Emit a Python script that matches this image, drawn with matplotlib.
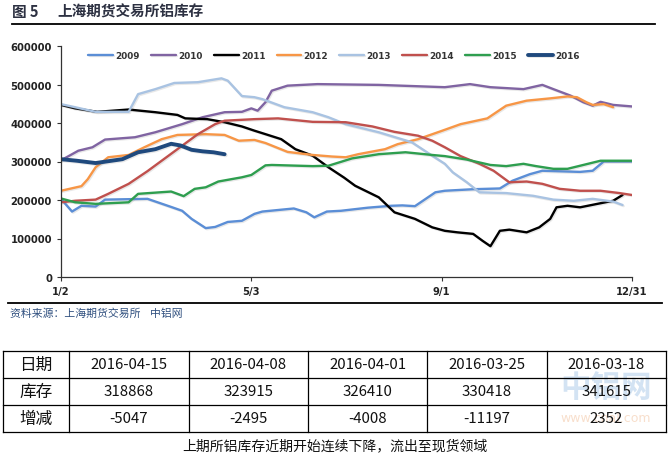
import matplotlib
matplotlib.use("Agg")
import matplotlib.pyplot as plt
from matplotlib.lines import Line2D
import matplotlib.patheffects as pe

CJK = ['Noto Sans CJK SC', 'DejaVu Sans']
plt.rcParams['font.family'] = ['DejaVu Sans', 'Noto Sans CJK SC']

# ---------------- data (day offset from 1/2, inventory in thousand tonnes) ----------------
d2009 = [0, 7, 13, 22, 28, 55, 70, 77, 83, 92, 98, 106, 115, 123, 128, 138, 148, 156, 161, 169, 178, 195, 210,
         217, 225, 238, 244, 262, 279, 287, 298, 306, 330, 338, 345, 363]
v2009 = [203, 170, 185, 183, 201, 203, 182, 172, 151, 127, 130, 143, 146, 164, 170, 174, 178, 168, 155, 170, 172,
         180, 185, 186, 184, 220, 224, 228, 230, 250, 267, 276, 273, 276, 300, 300]

d2010 = [0, 11, 20, 28, 47, 60, 77, 90, 104, 115, 121, 125, 130, 134, 144, 163, 202, 244, 260, 273, 294, 306,
         313, 324, 332, 338, 343, 351, 363]
v2010 = [303, 328, 337, 357, 363, 376, 397, 415, 428, 429, 438, 432, 454, 484, 497, 501, 499, 493, 501, 493, 488,
         499, 488, 471, 454, 445, 455, 447, 443]

d2011 = [0, 9, 23, 43, 60, 74, 79, 93, 104, 115, 123, 130, 140, 149, 160, 170, 180, 187, 202, 212, 225, 236, 244,
         252, 262, 268, 273, 279, 285, 296, 304, 311, 315, 322, 330, 341, 351, 357]
v2011 = [447, 438, 429, 435, 428, 421, 412, 410, 402, 391, 380, 371, 358, 332, 315, 285, 258, 237, 207, 168, 151,
         129, 120, 116, 112, 94, 80, 120, 123, 116, 129, 151, 181, 185, 181, 190, 198, 213]

d2012 = [0, 13, 17, 22, 30, 43, 53, 64, 74, 92, 104, 113, 123, 130, 144, 160, 172, 181, 189, 206, 214, 227, 241,
         254, 271, 283, 296, 311, 322, 328, 334, 338, 345, 351]
v2012 = [224, 236, 254, 285, 311, 317, 337, 358, 369, 371, 369, 354, 356, 348, 325, 317, 313, 311, 319, 332, 345,
         358, 378, 397, 412, 445, 458, 464, 469, 467, 454, 447, 449, 441]

d2013 = [0, 9, 22, 43, 49, 60, 72, 87, 102, 106, 115, 123, 128, 142, 160, 170, 181, 202, 223, 236, 244, 249, 258,
         266, 283, 300, 313, 326, 338, 351, 357]
v2013 = [449, 441, 429, 429, 475, 488, 504, 506, 516, 510, 470, 467, 462, 441, 428, 415, 397, 376, 350, 315, 294,
         272, 246, 220, 218, 211, 201, 198, 203, 196, 187]

d2014 = [0, 9, 22, 30, 43, 55, 60, 74, 87, 98, 104, 123, 138, 160, 181, 198, 212, 227, 236, 244, 254, 266, 275,
         285, 296, 306, 317, 330, 343, 355, 363]
v2014 = [194, 198, 201, 216, 242, 275, 290, 332, 371, 397, 406, 410, 412, 403, 402, 391, 377, 367, 354, 337, 314,
         294, 276, 246, 248, 242, 229, 224, 224, 218, 213]

d2015 = [0, 9, 22, 43, 49, 70, 78, 85, 92, 100, 115, 121, 130, 134, 160, 170, 185, 202, 219, 236, 244, 258, 273,
         283, 294, 302, 313, 322, 330, 343, 363]
v2015 = [204, 194, 190, 194, 216, 222, 210, 229, 233, 248, 259, 265, 290, 291, 288, 289, 308, 319, 324, 317, 314,
         305, 291, 288, 294, 288, 281, 281, 289, 302, 302]

d2016 = [0, 10, 22, 39, 49, 60, 70, 76, 83, 90, 97, 104]
v2016 = [306, 302, 296, 306, 324, 332, 346, 341.6, 330.4, 326.4, 323.9, 318.9]

years = ['2009', '2010', '2011', '2012', '2013', '2014', '2015', '2016']
colors = ['#5B8ED6', '#8064A2', '#000000', '#F79646', '#A9C3E2', '#C0504D', '#2E9E4F', '#1F497D']
series_days = [d2009, d2010, d2011, d2012, d2013, d2014, d2015, d2016]
series_vals = [v2009, v2010, v2011, v2012, v2013, v2014, v2015, v2016]

xtick_days = [0, 121, 242, 363]
xtick_labels = ['1/2', '5/3', '9/1', '12/31']

tbl_header = ['日期', '库存', '增减']
tbl_dates = ['2016-04-15', '2016-04-08', '2016-04-01', '2016-03-25', '2016-03-18']
tbl_stock = [318868, 323915, 326410, 330418, 341615]
tbl_change = [-5047, -2495, -4008, -11197, 2352]

title_num = '图 5'
title_text = '上海期货交易所铝库存'
source_text = '资料来源：上海期货交易所    中铝网'
caption_text = '上期所铝库存近期开始连续下降，流出至现货领域'

# ---------------- figure ----------------
W, H = 672, 456
fig = plt.figure(figsize=(W / 100, H / 100), dpi=100)


def fx(x):
    return x / W


def fy(y):
    return 1 - y / H


ax = fig.add_axes([fx(61), fy(278), fx(632) - fx(61), fy(47) - fy(278)])
for yr, c, ds, vs in zip(years, colors, series_days, series_vals):
    lw = 2.8 if yr == '2016' else 1.7
    ax.plot(ds, [v * 1000 for v in vs], color=c, lw=lw, label=yr,
            solid_joinstyle='round', solid_capstyle='round',
            path_effects=[pe.SimpleLineShadow(offset=(0.8, -0.8), alpha=0.18, shadow_color='gray'), pe.Normal()])

ax.set_xlim(0, 363)
ax.set_ylim(0, 600000)
ax.set_yticks(range(0, 600001, 100000))
ax.set_yticklabels([str(v) for v in range(0, 600001, 100000)])
ax.set_xticks(xtick_days)
ax.set_xticklabels(xtick_labels)
for s in ['top', 'right']:
    ax.spines[s].set_visible(False)
for s in ['left', 'bottom']:
    ax.spines[s].set_color('#333333')
    ax.spines[s].set_linewidth(0.9)
ax.tick_params(axis='both', direction='out', length=3, width=0.8, color='#333333',
               labelsize=7.2, labelcolor='#222222', pad=3.5)
for lab in ax.get_xticklabels() + ax.get_yticklabels():
    lab.set_fontweight('bold')

leg = ax.legend(loc='center', bbox_to_anchor=(0.478, 0.957), ncol=8, frameon=False,
                fontsize=6.4, handlelength=2.8, handletextpad=0.25, columnspacing=1.25)
for t in leg.get_texts():
    t.set_fontweight('bold')
    t.set_color('#333333')

# ---------------- title / rules / source ----------------
fig.text(fx(12), fy(12), title_num, family=CJK, fontsize=10.5, fontweight='bold', color='#2d3142',
         ha='left', va='center')
fig.text(fx(57), fy(12), title_text, family=CJK, fontsize=10.5, fontweight='bold', color='#2d3142',
         ha='left', va='center')
fig.add_artist(Line2D([fx(12), fx(655)], [fy(25), fy(25)], color='black', lw=1.3))
fig.add_artist(Line2D([fx(8), fx(662)], [fy(304), fy(304)], color='black', lw=1.3))
fig.text(fx(10), fy(314), source_text, family=CJK, fontsize=7.8, color='#2F4F7F',
         ha='left', va='center')

# ---------------- table ----------------
col_edges = [3, 69, 189, 308, 427, 547, 666]
row_edges = [352, 379, 406, 433]
for y in row_edges:
    fig.add_artist(Line2D([fx(col_edges[0]), fx(col_edges[-1])], [fy(y), fy(y)], color='black', lw=0.9))
for x in col_edges:
    fig.add_artist(Line2D([fx(x), fx(x)], [fy(row_edges[0]), fy(row_edges[-1])], color='black', lw=0.9))

# watermark (faint, behind the table text)
fig.text(fx(606), fy(388), '中铝网', family=CJK, fontsize=22, fontweight='bold',
         color='#d3e3f3', ha='center', va='center', zorder=0)
fig.text(fx(606), fy(419), 'www.cnal.com', fontsize=9, color='#f8dfcc', ha='center', va='center', zorder=0)

rows = [tbl_dates, [str(v) for v in tbl_stock], [str(v) for v in tbl_change]]
for r in range(3):
    yc = (row_edges[r] + row_edges[r + 1]) / 2
    fig.text(fx((col_edges[0] + col_edges[1]) / 2), fy(yc), tbl_header[r], family=CJK,
             fontsize=12, color='#111111', ha='center', va='center')
    for c in range(5):
        xc = (col_edges[c + 1] + col_edges[c + 2]) / 2
        fig.text(fx(xc), fy(yc), rows[r][c], family=CJK, fontsize=10.8, color='#111111',
                 ha='center', va='center')

fig.text(fx(335), fy(446), caption_text, family=CJK, fontsize=10, color='#111111',
         ha='center', va='center')

fig.savefig('out.png', dpi=100)
